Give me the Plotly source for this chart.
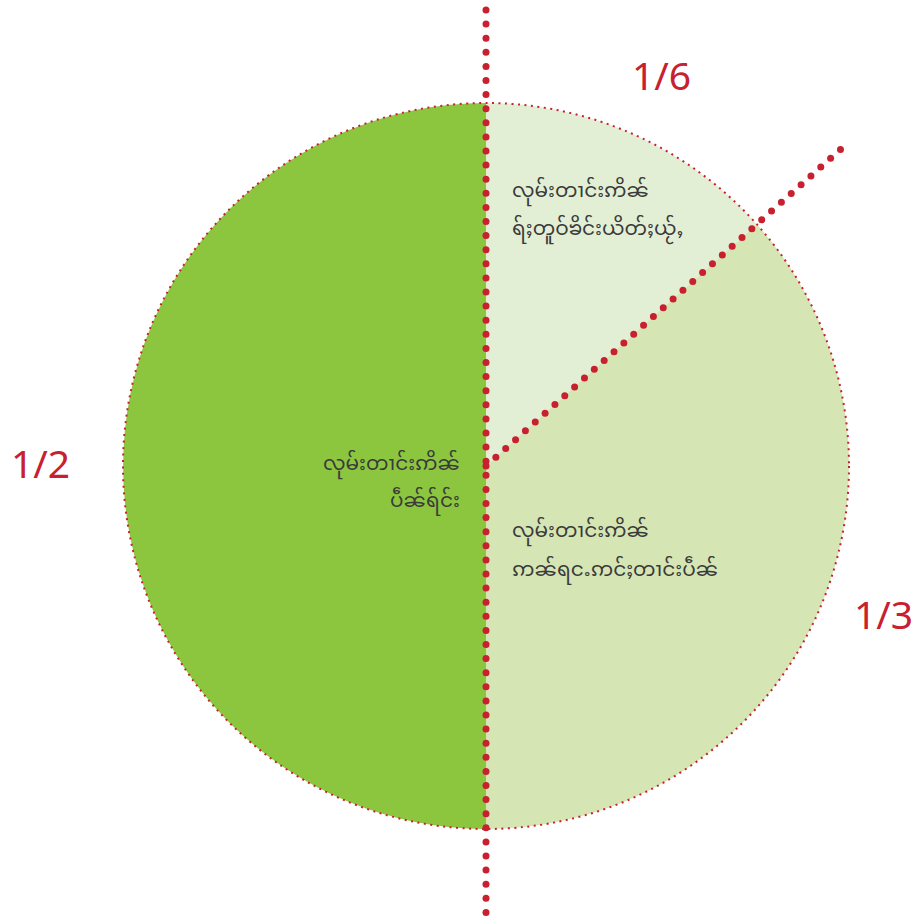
import numpy as np
import plotly.graph_objects as go

# ---- data ----
parts = ["top", "lower_right", "left"]
shares = [13.4, 36.6, 50.0]
fraction_labels = ["1/6", "1/3", "1/2"]
slice_line1 = ["လုမ်းတၢင်းဢိၼ်", "လုမ်းတၢင်းဢိၼ်", "လုမ်းတၢင်းဢိၼ်"]
slice_line2 = ["ရ်ႈတူဝ်ၶိင်းယိတ်ႈယႂ်ႇ", "ဢၼ်ရငႉဢင်ႈတၢင်းပဵၼ်", "ပဵၼ်ရ်င်း"]
slice_colors = ["#e3efd5", "#d5e5b3", "#8cc63f"]

# ---- layout geometry (pixels) ----
W, H = 916, 921
CX, CY, R = 486, 466, 363
RED = "#c8202f"

fig = go.Figure()

# invisible cartesian trace so shapes/annotations can use pixel axes
fig.add_trace(go.Scatter(x=[CX], y=[CY], mode="markers",
                         marker=dict(opacity=0), hoverinfo="skip", showlegend=False))

fig.add_trace(go.Pie(
    labels=parts, values=shares, sort=False, direction="clockwise", rotation=0,
    marker=dict(colors=slice_colors, line=dict(width=0)),
    textinfo="none", hoverinfo="skip", showlegend=False,
    domain=dict(x=[(CX - R) / W, (CX + R) / W],
                y=[(H - CY - R) / H, (H - CY + R) / H]),
))

shapes = []
# dotted outline
shapes.append(dict(type="circle", xref="x", yref="y", layer="above",
                   x0=CX - R, x1=CX + R, y0=CY - R, y1=CY + R,
                   line=dict(color=RED, width=2, dash="2px,4.5px")))

def dot(x, y, d=7):
    return dict(type="circle", xref="x", yref="y", layer="above",
                x0=x - d / 2, x1=x + d / 2, y0=y - d / 2, y1=y + d / 2,
                fillcolor=RED, line=dict(width=0))

# vertical dotted divider
for y in np.arange(10, 915, 14.1):
    shapes.append(dot(CX, y))

# diagonal dotted divider at the top-slice boundary
theta = np.deg2rad(90 - 360 * shares[0] / sum(shares))
for t in np.arange(0, 1.31 * R, 13.2):
    shapes.append(dot(CX + t * np.cos(theta), CY - t * np.sin(theta)))

ann = []
num_font = dict(family="Noto Sans, Open Sans, sans-serif", size=39, color=RED)
ann.append(dict(x=661, y=74, text=fraction_labels[0], font=num_font))
ann.append(dict(x=883, y=613, text=fraction_labels[1], font=num_font))
ann.append(dict(x=40, y=462, text=fraction_labels[2], font=num_font))

txt_font = dict(family="Noto Sans Myanmar, Padauk, Myanmar Text, Noto Sans, sans-serif",
                size=20, color="#3a3a3a")
# (x, y line1, y line2, anchor)
text_pos = [(510, 192, 230, "left"), (510, 532, 571, "left"), (462, 465, 502, "right")]
for i, (tx, y1, y2, anc) in enumerate(text_pos):
    ann.append(dict(x=tx, y=y1, text=slice_line1[i], xanchor=anc, font=txt_font, height=32))
    ann.append(dict(x=tx, y=y2, text=slice_line2[i], xanchor=anc, font=txt_font, height=32))
for a in ann:
    a.update(xref="x", yref="y", showarrow=False)
    a.setdefault("xanchor", "center")
    a.setdefault("yanchor", "middle")

fig.update_layout(
    width=W, height=H, margin=dict(l=0, r=0, t=0, b=0),
    paper_bgcolor="white", plot_bgcolor="white",
    xaxis=dict(range=[0, W], visible=False, fixedrange=True),
    yaxis=dict(range=[H, 0], visible=False, fixedrange=True),
    shapes=shapes, annotations=ann,
)

fig.write_html("out.html", config={"displayModeBar": False},
               post_script="document.body.style.margin='0';document.body.style.overflow='hidden';")
